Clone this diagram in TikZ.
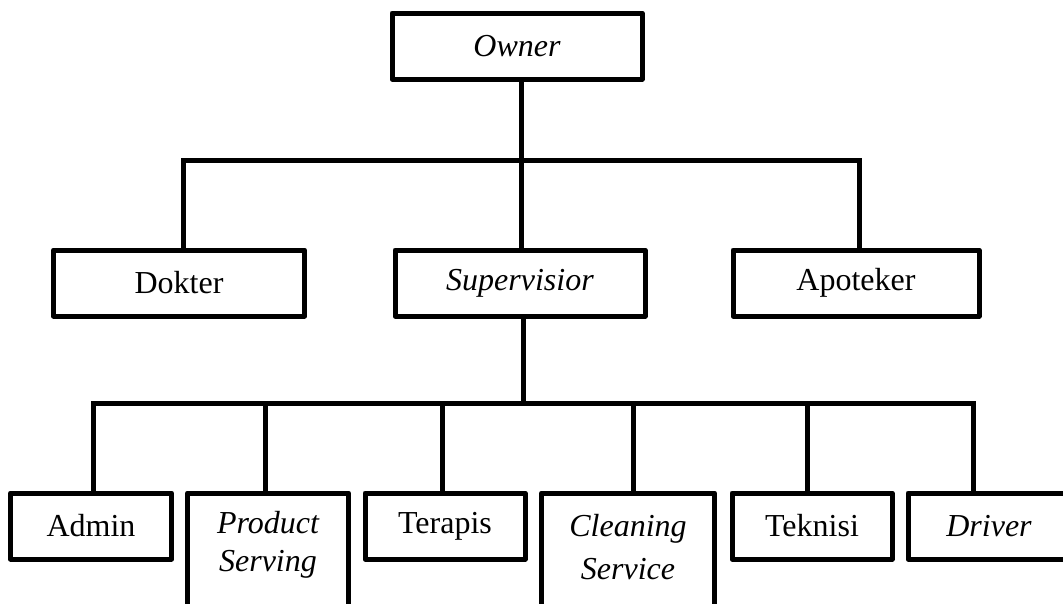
\documentclass[tikz,border=0pt]{standalone}
\usepackage{fontspec}
\setmainfont{Liberation Serif}
\begin{document}
\begin{tikzpicture}[x=1pt,y=-1pt,
  box/.style={draw, line width=5pt, line join=round, inner sep=0pt, outer sep=0pt, minimum height=66pt,
    font=\fontsize{32}{38}\selectfont, align=center},
  tall/.style={box, minimum height=140pt, anchor=north},
  tlab/.style={font=\fontsize{32}{38}\selectfont\itshape, align=center},
  conn/.style={line width=5pt, line join=miter}]
\useasboundingbox (0,0) rectangle (1063,603);
\clip (0,0) rectangle (1063,603);
% top
\node[box, minimum width=250pt] (owner) at (517,46) {\itshape Owner};
% middle row
\node[box, minimum width=251pt] (dok) at (179,283) {Dokter};
\node[box, minimum width=250pt] (sup) at (520,283) {\itshape Supervisior};
\node[box, minimum width=246pt] (apo) at (856,283) {Apoteker};
% bottom row
\node[box, minimum width=161pt] (adm) at (91,526) {Admin};
\node[tall, minimum width=161pt, label={[tlab, yshift=18pt]center:Product\\Serving}] (prod) at (268,493) {};
\node[box, minimum width=160pt] (ter) at (445,526) {Terapis};
\node[tall, minimum width=173pt, label={[tlab, yshift=16pt]center:Cleaning\\[5pt]Service}] (cln) at (628,493) {};
\node[box, minimum width=160pt] (tek) at (812,526) {Teknisi};
\node[box, minimum width=162pt] (drv) at (989,526) {\itshape Driver};
% bus lines
\coordinate (tb) at (0,160);
\coordinate (bb) at (0,403);
\draw[conn] ([xshift=4pt]owner.south) -- ([xshift=4pt]owner.south |- tb);
\draw[conn] ([xshift=4pt]dok.north) -- ([xshift=4pt]dok.north |- tb) -- ([xshift=3pt]apo.north |- tb) -- ([xshift=3pt]apo.north);
\draw[conn] ([xshift=1pt]sup.north |- tb) -- ([xshift=1pt]sup.north);
\draw[conn] ([xshift=3pt]sup.south) -- ([xshift=3pt]sup.south |- bb);
\draw[conn] ([xshift=2pt]adm.north) -- ([xshift=2pt]adm.north |- bb) -- ([xshift=-16pt]drv.north |- bb) -- ([xshift=-16pt]drv.north);
\draw[conn] ([xshift=-3pt]prod.north) -- ([xshift=-3pt]prod.north |- bb);
\draw[conn] ([xshift=-3pt]ter.north) -- ([xshift=-3pt]ter.north |- bb);
\draw[conn] ([xshift=5pt]cln.north) -- ([xshift=5pt]cln.north |- bb);
\draw[conn] ([xshift=-5pt]tek.north) -- ([xshift=-5pt]tek.north |- bb);
\end{tikzpicture}
\end{document}
